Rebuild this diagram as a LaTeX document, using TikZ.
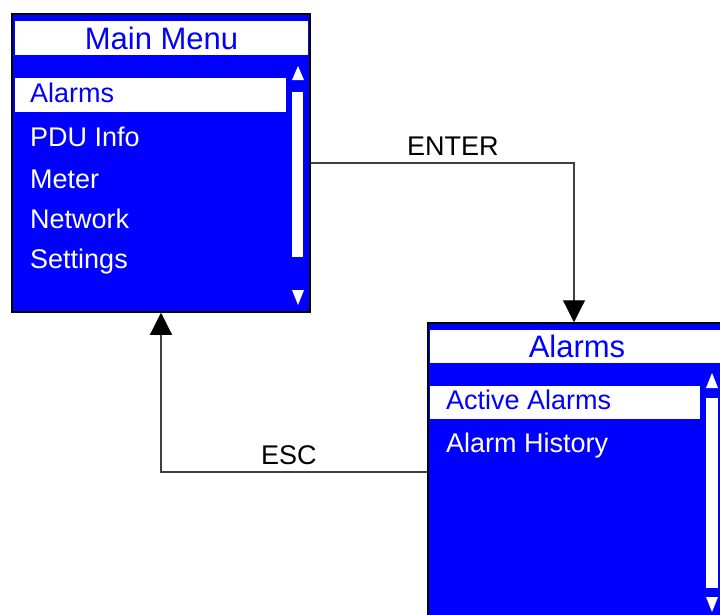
\documentclass[tikz,border=0pt]{standalone}
\usepackage{fontspec}
\setmainfont{Liberation Sans}
\usetikzlibrary{arrows.meta,positioning}
\definecolor{lcdblue}{RGB}{0,0,255}

\begin{document}
\begin{tikzpicture}[x=1pt, y=-1pt,
  >={Triangle[length=22pt, width=22pt, color=black]},
  screen/.style={draw=black, line width=1.5pt, fill=lcdblue, inner sep=0pt,
                 minimum width=298pt, minimum height=298pt},
  titlebar/.style={fill=white, text=lcdblue, inner sep=0pt, text depth=0pt,
                   font=\fontsize{31}{36}\selectfont},
  selbar/.style={fill=white, inner sep=0pt, minimum height=34pt},
  entry/.style={anchor=base west, inner sep=0pt, text=white, font=\fontsize{27}{32}\selectfont},
  scrollbar/.style={fill=white, inner sep=0pt},
  keylabel/.style={above=4pt, inner sep=3pt, text=black, font=\fontsize{27}{32}\selectfont},
  arr/.style={->, line width=1.2pt, draw=black!75}]
  \clip (0,0) rectangle (720,614);
  % main menu screen
  \node[screen] (mainmenu) at (161,163) {};
  \node[titlebar, minimum width=293pt, minimum height=34pt] (maintitle) at (161.5,38) {Main Menu};
  \node[selbar, minimum width=271pt] (mainsel) at (150.5,95) {};
  \node[entry, text=lcdblue] (mainitem) at (30,102) {Alarms};
  \foreach \y/\t in {146/PDU Info, 188/Meter, 228/Network, 268/Settings} {\node[entry] (mainitem\y) at (30,\y) {\t};}
  \node[scrollbar, minimum width=11pt, minimum height=165pt] (mainscroll) at (297.5,174.5) {};
  \fill[white] (292,80) -- (304,80) -- (298,66) -- cycle;
  \fill[white] (292,290) -- (304,290) -- (298,305) -- cycle;
  % alarms screen
  \node[screen] (alarms) at (577,472) {};
  \node[titlebar, minimum width=294pt, minimum height=33pt] (alarmstitle) at (577,346.5) {Alarms};
  \node[selbar, minimum width=270pt, minimum height=33pt] (alarmsel) at (565,402.5) {};
  \node[entry, text=lcdblue] (alarmitem) at (446,409) {Active Alarms};
  \node[entry] (alarmitem2) at (446,452) {Alarm History};
  \node[scrollbar, minimum width=12pt, minimum height=190pt] (alarmscroll) at (712,493) {};
  \fill[white] (706,388) -- (718,388) -- (712,373) -- cycle;
  \fill[white] (706,597) -- (718,597) -- (712,612) -- cycle;
  % key transitions
  \draw[arr] (mainmenu.east) -| node[keylabel, pos=0.27] {ENTER} ([xshift=-3pt]alarms.north);
  \draw[arr] (alarms.west) -| node[keylabel, pos=0.26] {ESC} (mainmenu.south);
\end{tikzpicture}
\end{document}
